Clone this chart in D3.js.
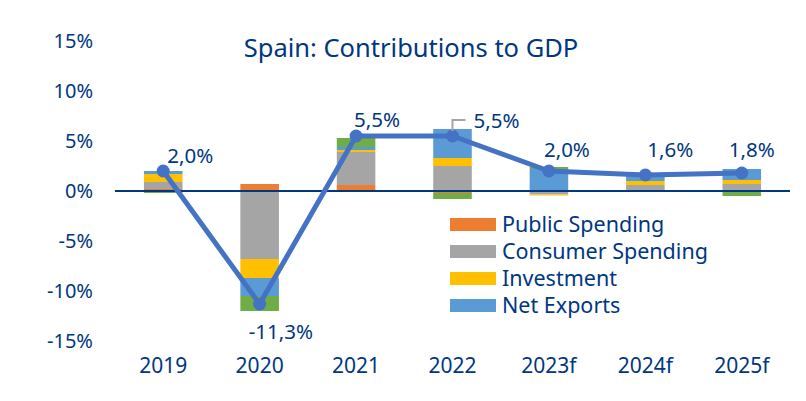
<!DOCTYPE html>
<html>
	<head>
		<title>Spain: Contributions to GDP | D3</title>
		<script src="https://d3js.org/d3.v7.min.js" charset="utf-8"></script>
		<style>
			body {
				margin: 0;
				background: white;
				font-family: "Noto Sans", sans-serif;
			}
			text {
				fill: #003781;
			}
		</style>
	</head>
	<body>
		<script>
		//data
		var years = ["2019", "2020", "2021", "2022", "2023f", "2024f", "2025f"];
		var publicSpending   = [0.2, 0.7, 0.6, -0.2, 0.0, 0.0, 0.0];
		var consumerSpending = [0.7, -6.8, 3.3, 2.5, -0.35, 0.6, 0.7];
		var investment       = [0.8, -1.9, 0.2, 0.8, -0.1, 0.4, 0.4];
		var netExports       = [0.3, -1.8, 0.3, 2.9, 2.2, 0.6, 1.1];
		var otherItems       = [-0.2, -1.5, 0.9, -0.6, 0.2, 0.0, -0.5];
		var gdpGrowth        = [2.0, -11.3, 5.5, 5.5, 2.0, 1.6, 1.8];
		var gdpLabels        = ["2,0%", "-11,3%", "5,5%", "5,5%", "2,0%", "1,6%", "1,8%"];
		var yTicks = [-15, -10, -5, 0, 5, 10, 15];

		var seriesNames = ["Public Spending", "Consumer Spending", "Investment", "Net Exports", "Other"];
		var seriesColors = ["#ED7D31", "#A5A5A5", "#FFC000", "#5B9BD5", "#70AD47"];
		var legendNames = seriesNames.slice(0, 4);

		//label nudges (dx to text start, dy to baseline) from the marker
		var labelNudge = [[4, -8], [-11, 35], [-2, -9], [21, -8], [-5, -14], [2, -18], [-13, -16]];

		var width = 806;
		var height = 401;

		var svg = d3.select("body")
			.append("svg")
			.attr("width", width)
			.attr("height", height);

		var x = d3.scaleBand()
			.domain(years)
			.range([115, 790])
			.paddingInner(0.6)
			.paddingOuter(0.3);

		var y = d3.scaleLinear()
			.domain([-15, 15])
			.range([341, 41]);

		//build rows for the stack
		var rows = years.map(function(yr, i){
			return {
				year: yr,
				"Public Spending": publicSpending[i],
				"Consumer Spending": consumerSpending[i],
				"Investment": investment[i],
				"Net Exports": netExports[i],
				"Other": otherItems[i]
			};
		});

		var stacked = d3.stack()
			.keys(seriesNames)
			.offset(d3.stackOffsetDiverging)(rows);

		var bars = svg.append("g");

		bars.selectAll("g")
			.data(stacked)
			.enter()
			.append("g")
			.attr("fill", function(d, i){ return seriesColors[i]; })
			.selectAll("rect")
			.data(function(d){ return d; })
			.enter()
			.append("rect")
			.attr("x", function(d){ return x(d.data.year); })
			.attr("width", x.bandwidth())
			.attr("y", function(d){ return y(Math.max(d[0], d[1])); })
			.attr("height", function(d){ return Math.abs(y(d[0]) - y(d[1])); });

		//zero line
		svg.append("line")
			.attr("x1", 115)
			.attr("x2", 790)
			.attr("y1", y(0))
			.attr("y2", y(0))
			.attr("stroke", "#003781")
			.attr("stroke-width", 2);

		//y axis labels
		var yAxis = svg.append("g")
			.attr("transform", "translate(93,0)")
			.call(d3.axisLeft(y).tickValues(yTicks).tickSize(0).tickPadding(0)
				.tickFormat(function(d){ return d + "%"; }));
		yAxis.select(".domain").remove();
		yAxis.selectAll("text")
			.attr("font-size", 20)
			.attr("font-family", "Noto Sans")
			.attr("fill", "#003781");

		//x axis labels
		var xAxis = svg.append("g")
			.attr("transform", "translate(0,358)")
			.call(d3.axisBottom(x).tickSize(0).tickPadding(0));
		xAxis.select(".domain").remove();
		xAxis.selectAll("text")
			.attr("font-size", 21)
			.attr("font-family", "Noto Sans")
			.attr("fill", "#003781");

		//gdp line
		var cx = function(i){ return x(years[i]) + x.bandwidth() / 2; };

		var line = d3.line()
			.x(function(d, i){ return cx(i); })
			.y(function(d){ return y(d); });

		svg.append("path")
			.datum(gdpGrowth)
			.attr("fill", "none")
			.attr("stroke", "#4472C4")
			.attr("stroke-width", 5)
			.attr("stroke-linejoin", "round")
			.attr("d", line);

		svg.append("g")
			.selectAll("circle")
			.data(gdpGrowth)
			.enter()
			.append("circle")
			.attr("cx", function(d, i){ return cx(i); })
			.attr("cy", function(d){ return y(d); })
			.attr("r", 6.5)
			.attr("fill", "#4472C4");

		//leader line for 2022 label
		var lx = cx(3), ly = y(gdpGrowth[3]);
		svg.append("polyline")
			.attr("points", [[lx, ly - 5], [lx, ly - 16], [lx + 13, ly - 16]].join(" "))
			.attr("fill", "none")
			.attr("stroke", "#A5A5A5")
			.attr("stroke-width", 2);

		svg.append("g")
			.selectAll("text")
			.data(gdpGrowth)
			.enter()
			.append("text")
			.attr("x", function(d, i){ return cx(i) + labelNudge[i][0]; })
			.attr("y", function(d, i){ return y(d) + labelNudge[i][1]; })
			.attr("font-size", 20.5)
			.text(function(d, i){ return gdpLabels[i]; });

		//legend
		var legend = svg.append("g")
			.selectAll("g")
			.data(legendNames)
			.enter()
			.append("g")
			.attr("transform", function(d, i){ return "translate(450," + (224.5 + i * 27) + ")"; });

		legend.append("rect")
			.attr("x", 0)
			.attr("y", -6.5)
			.attr("width", 46)
			.attr("height", 13)
			.attr("fill", function(d, i){ return seriesColors[i]; });

		legend.append("text")
			.attr("x", 52)
			.attr("y", 7.5)
			.attr("font-size", 21.5)
			.text(function(d){ return d; });

		//title
		svg.append("text")
			.attr("x", 411)
			.attr("y", 57)
			.attr("text-anchor", "middle")
			.attr("font-size", 25.5)
			.text("Spain: Contributions to GDP");
		</script>
	</body>
</html>
